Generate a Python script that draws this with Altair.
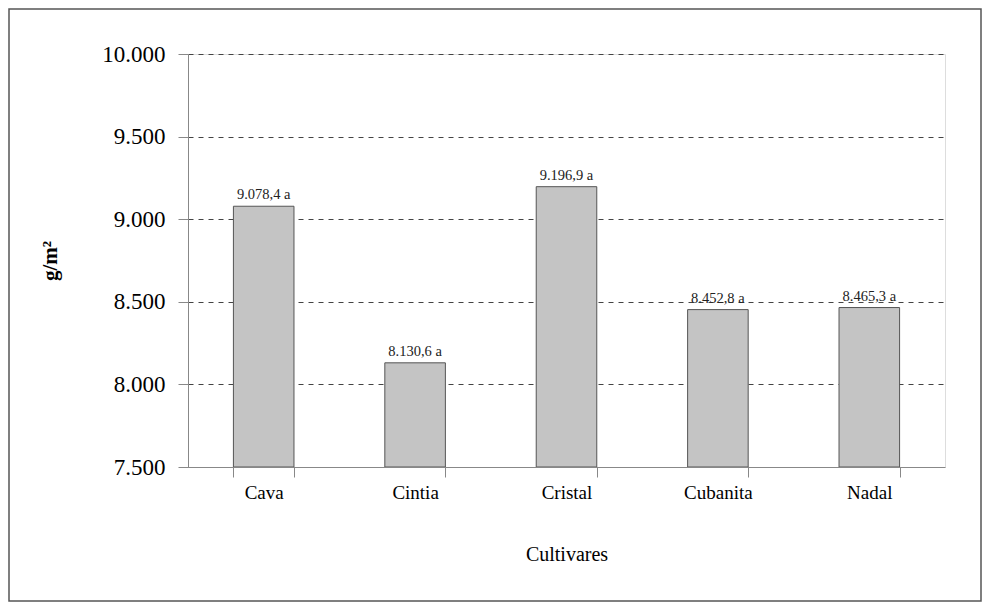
import altair as alt
import pandas as pd

cultivares = ["Cava", "Cintia", "Cristal", "Cubanita", "Nadal"]
valores = [9078.4, 8130.6, 9196.9, 8452.8, 8465.3]
letras = ["a", "a", "a", "a", "a"]
y_ticks = [7500, 8000, 8500, 9000, 9500, 10000]


def fmt(v):
    s = f"{v:,.1f}"
    return s.replace(",", "X").replace(".", ",").replace("X", ".")


df = pd.DataFrame({
    "cultivar": cultivares,
    "valor": valores,
    "rotulo": [f"{fmt(v)} {l}" for v, l in zip(valores, letras)],
})

FONT = "Liberation Serif"
W, H = 757, 413
PAD_L, PAD_T, PAD_R, PAD_B = 180, 46, 37, 135

x = alt.X(
    "cultivar:N",
    sort=cultivares,
    scale=alt.Scale(paddingInner=0.6, paddingOuter=0.3),
    axis=alt.Axis(
        title="Cultivares",
        titleFontSize=20,
        titleFontWeight="normal",
        titlePadding=42,
        labelFontSize=19,
        labelAngle=0,
        labelPadding=6,
        tickBand="extent",
        tickSize=10,
        grid=False,
    ),
)

y = alt.Y(
    "valor:Q",
    scale=alt.Scale(domain=[7500, 10000], zero=False, nice=False),
    axis=alt.Axis(
        title="g/m²",
        titleFontSize=21,
        titleFontWeight="bold",
        titleAngle=-90,
        titleX=-138,
        titleY=H / 2,
        titleAlign="center",
        titleBaseline="middle",
        values=y_ticks,
        labelExpr="replace(format(datum.value, ',.0f'), ',', '.')",
        labelFontSize=23,
        labelPadding=13,
        tickSize=10,
        grid=True,
        gridColor="#444",
        gridDash=[5, 5],
        gridWidth=1,
    ),
)

bars = alt.Chart(df).mark_bar(
    fill="#c4c4c4", stroke="#555", strokeWidth=1, clip=True
).encode(x=x, y=y, y2=alt.datum(7500))

labels = alt.Chart(df).mark_text(
    font=FONT, fontSize=14.5, color="#222", baseline="bottom", dy=-4
).encode(x=alt.X("cultivar:N", sort=cultivares), y="valor:Q", text="rotulo:N")

frame = alt.Chart(pd.DataFrame({"k": [0]})).mark_rect(
    fillOpacity=0, stroke="#555", strokeWidth=1.5
).encode(
    x=alt.value(-PAD_L + 1),
    x2=alt.value(W + PAD_R - 1),
    y=alt.value(-PAD_T + 1),
    y2=alt.value(H + PAD_B - 1),
)

chart = alt.layer(frame, bars, labels).properties(
    width=W,
    height=H,
    autosize=alt.AutoSizeParams(type="none"),
    padding={"left": PAD_L, "top": PAD_T, "right": PAD_R, "bottom": PAD_B},
).configure_view(
    stroke="#444", strokeWidth=3
).configure_axis(
    labelFont=FONT,
    titleFont=FONT,
    labelColor="#222",
    titleColor="#222",
    tickColor="#222",
    tickWidth=1.5,
    domainColor="#222",
    domainWidth=1.5,
).configure_text(
    font=FONT
).configure(background="white", font=FONT)

chart.save("out.html", embed_options={"renderer": "svg", "actions": False})
